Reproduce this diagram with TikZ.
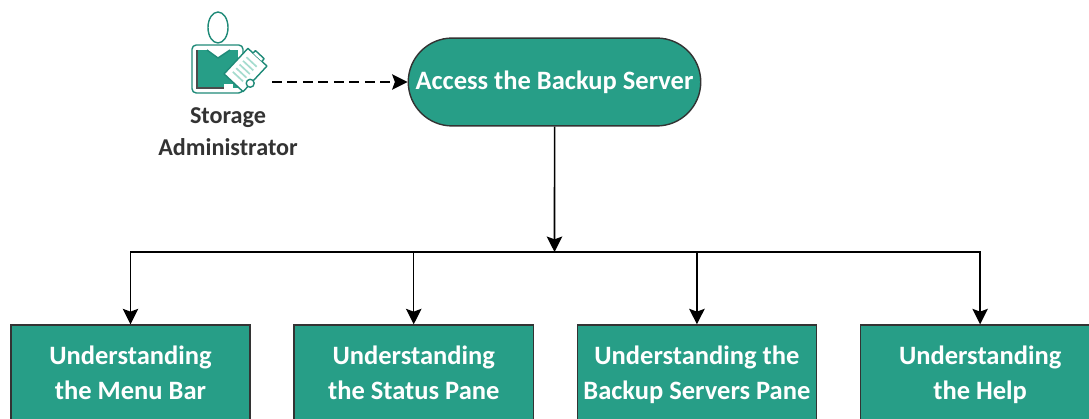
\documentclass[tikz,border=0pt]{standalone}
\usepackage{fontspec}
\setmainfont{Carlito}
\usetikzlibrary{positioning}
\usetikzlibrary{shapes.misc}
\usetikzlibrary{arrows.meta}
\definecolor{tealfill}{HTML}{279E87}
\definecolor{tealline}{HTML}{1F8A78}
\definecolor{paleteal}{HTML}{A5DCCF}
\definecolor{labelgrey}{HTML}{333333}
\tikzset{>={Stealth[length=11pt,width=11pt,inset=2pt]}}
\tikzset{
	stepbox/.style={draw=black!80,line width=1pt,fill=tealfill,text=white,font=\bfseries\fontsize{18.85}{24.5}\selectfont,align=center,minimum width=170pt,minimum height=71.1pt,inner sep=0pt},
	startbox/.style={stepbox,rounded rectangle,minimum width=208pt,minimum height=62.5pt},
	adminlabel/.style={text=labelgrey,font=\bfseries\fontsize{17.2}{22.7}\selectfont,align=center,inner sep=0pt},
	flow/.style={line width=1.1pt,->},
	iconline/.style={draw=tealline,line width=1pt,line join=round},
}
\begin{document}
\begin{tikzpicture}[x=0.025cm,y=0.025cm]
	\useasboundingbox (0,0) rectangle (1089,419);
	\clip (0,0) rectangle (1089,419);
	
	\node[startbox] (access) at (554.5,337) {Access the Backup Server};
	\node[stepbox] (menu) at (130.5,44) {Understanding\\the Menu Bar\vphantom{p}};
	\node[stepbox,right=30.4pt of menu] (status) {Understanding\\the Status Pane\vphantom{p}};
	\node[stepbox,right=30.4pt of status] (panes) {Understanding the\\Backup Servers Pane};
	\node[stepbox,right=30.4pt of panes] (help) {Understanding\\the Help};
	\node[adminlabel] (admin) at (228,287) {Storage\\Administrator};
	
	\coordinate (bus) at (access.south |- 0,167);
	\coordinate (adminend) at (272,337);
	
	\draw[flow] (access) -- (bus);
	\draw[flow] (bus) -| (menu.north);
	\draw[flow] (bus) -| (status.north);
	\draw[flow] (bus) -| (panes.north);
	\draw[flow] (bus) -| (help.north);
	\draw[flow,dashed,dash pattern=on 7pt off 4pt] (adminend) -- (access.west);
	
	% icon
	\draw[iconline,fill=white,rounded corners=3pt] (192,326) rectangle (243,374);
	\fill[tealfill] (197,331) rectangle (238,369);
	\draw[black!70,line width=1pt] (197,369) -- (197,331) -- (224,331);
	\fill[white] (224,328) rectangle (233,335);
	\fill[white] (207,369) -- (218,361) -- (230,369) -- cycle;
	\draw[iconline] (207,369) -- (218,361) -- (230,369);
	\draw[iconline,fill=white] (218,391.5) ellipse (10 and 15.5);
	\begin{scope}[shift={(245.5,349)},rotate=47]
		\draw[iconline,fill=white] (-17.5,-13) rectangle (17.5,13);
		\draw[iconline,fill=white] (17.5,-6) -- (21,-6) -- (21,6) -- (17.5,6);
		\foreach \x in {-10,-5,0,5,10}
			\draw[paleteal,line width=1.2pt] (\x,-6) -- (\x,8);
		\draw[iconline,fill=white] (-6.5,-12.5) circle (4);
	\end{scope}
\end{tikzpicture}
\end{document}
